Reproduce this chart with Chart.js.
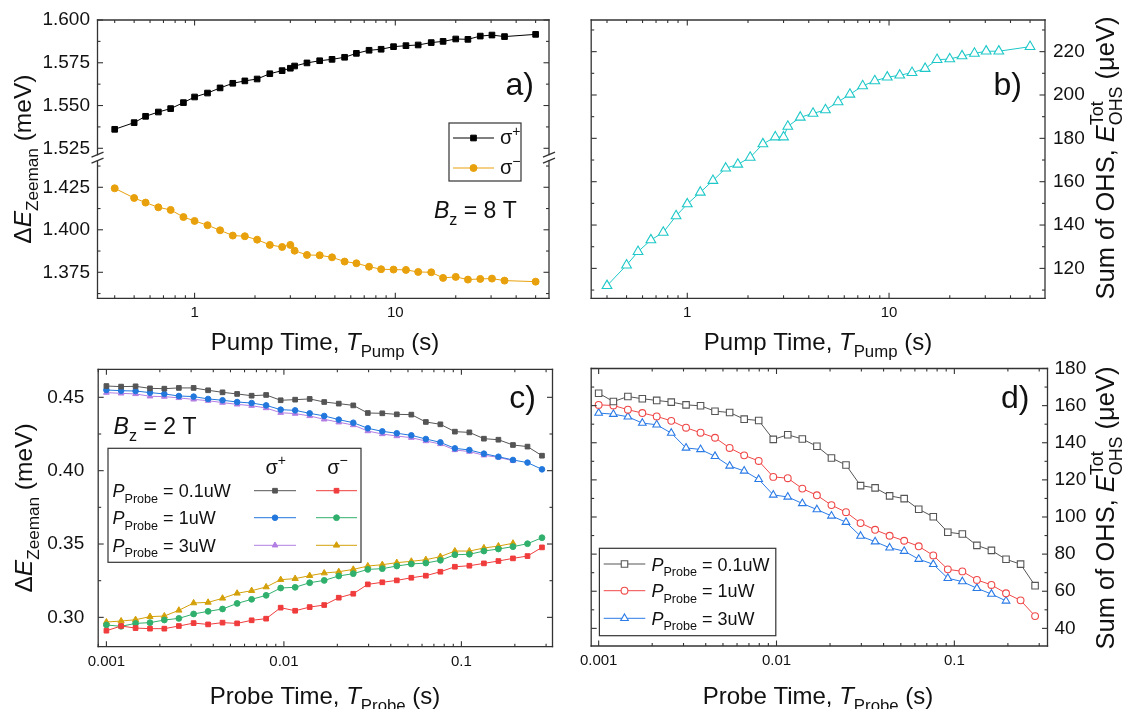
<!DOCTYPE html>
<html>
<head>
<meta charset="utf-8">
<script src="https://cdn.jsdelivr.net/npm/chart.js@4.4.1/dist/chart.umd.min.js"></script>
<style>
  html, body { margin: 0; padding: 0; background: #fff; }
  #wrap { position: relative; width: 1122px; height: 709px; }
  #wrap canvas { position: absolute; left: 0; top: 0; }
</style>
</head>
<body>
<div id="wrap">
  <canvas id="panelA" width="1122" height="709"></canvas>
  <canvas id="panelB" width="1122" height="709"></canvas>
  <canvas id="panelC" width="1122" height="709"></canvas>
  <canvas id="panelD" width="1122" height="709"></canvas>
</div>
<script>
const FONT = '"Liberation Sans", Arial, sans-serif';
const INK = '#111';
const FRAME = '#333';
const MAJOR_TICK = 5.5, MINOR_TICK = 3;

// ---- pump-time sweep (panels a, b) ----
const pumpTime = [0.4, 0.5, 0.57, 0.66, 0.76, 0.88, 1.0, 1.16, 1.34, 1.55, 1.78, 2.05, 2.37, 2.73, 3.0, 3.15,
  3.63, 4.2, 4.84, 5.59, 6.4, 7.4, 8.5, 9.8, 11.3, 13.0, 15.1, 17.3, 20, 23, 26.5, 30.3, 35, 50];
const zeemanSigmaPlus = [1.5361, 1.5400, 1.5437, 1.5462, 1.5482, 1.5517, 1.5550, 1.5573, 1.5603, 1.5630, 1.5644,
  1.5655, 1.5686, 1.5704, 1.5718, 1.5731, 1.5749, 1.5762, 1.5770, 1.5782, 1.5805, 1.5823, 1.5829, 1.5844,
  1.5850, 1.5854, 1.5868, 1.5875, 1.5889, 1.5887, 1.5906, 1.5912, 1.5903, 1.5916];
const zeemanSigmaMinus = [1.4244, 1.4187, 1.4160, 1.4132, 1.4117, 1.4075, 1.4052, 1.4027, 1.3997, 1.3966, 1.3962,
  1.3942, 1.3911, 1.3899, 1.3911, 1.3877, 1.3852, 1.3850, 1.3838, 1.3813, 1.3803, 1.3783, 1.3768, 1.3766,
  1.3764, 1.3752, 1.3750, 1.3717, 1.3723, 1.3707, 1.3711, 1.3713, 1.3701, 1.3695];
const ohsSumPump = [112.0, 121.5, 127.7, 133.1, 136.6, 144.2, 149.7, 155.1, 160.5, 166.2, 168.0, 171.2, 177.4,
  180.6, 180.6, 185.5, 189.7, 191.5, 193.1, 196.8, 200.3, 204.2, 206.5, 208.2, 209.1, 210.3, 212.2, 216.3,
  216.6, 218.0, 219.2, 220.2, 220.2, 222.3];

// ---- probe-time sweep (panels c, d) ----
const probeTime = [0.001, 0.00121, 0.00146, 0.00176, 0.00212, 0.00256, 0.0031, 0.00374, 0.00451, 0.00545,
  0.00658, 0.00794, 0.00959, 0.01157, 0.01397, 0.01687, 0.02037, 0.02459, 0.02969, 0.03584, 0.04325,
  0.05222, 0.06305, 0.07612, 0.09189, 0.1109, 0.1339, 0.1616, 0.1952, 0.2357, 0.2844];
const probePowers = ['0.1uW', '1uW', '3uW'];

const cPlus01 = [0.4577, 0.4573, 0.4575, 0.4561, 0.4559, 0.4564, 0.4564, 0.4548, 0.4534, 0.4523, 0.4511, 0.4516,
  0.4480, 0.4484, 0.4489, 0.4468, 0.4457, 0.4445, 0.4393, 0.4391, 0.4384, 0.4382, 0.4332, 0.4316, 0.4266,
  0.4261, 0.4218, 0.4211, 0.4175, 0.4164, 0.4102];
const cPlus1 = [0.4550, 0.4545, 0.4543, 0.4532, 0.4523, 0.4509, 0.4505, 0.4489, 0.4480, 0.4468, 0.4461, 0.4445,
  0.4416, 0.4411, 0.4391, 0.4373, 0.4348, 0.4327, 0.4289, 0.4268, 0.4255, 0.4241, 0.4216, 0.4193, 0.4152,
  0.4141, 0.4116, 0.4095, 0.4073, 0.4055, 0.4009];
const cPlus3 = [0.4532, 0.4527, 0.4523, 0.4507, 0.4505, 0.4496, 0.4486, 0.4477, 0.4464, 0.4452, 0.4443, 0.4427,
  0.4395, 0.4389, 0.4373, 0.4350, 0.4330, 0.4311, 0.4270, 0.4250, 0.4236, 0.4225, 0.4202, 0.4182, 0.4141,
  0.4130, 0.4105, 0.4091, 0.4068];
const cMinus01 = [0.2909, 0.2941, 0.2927, 0.2923, 0.2923, 0.2941, 0.2961, 0.2952, 0.2964, 0.2959, 0.2980, 0.2991,
  0.3066, 0.3045, 0.3070, 0.3084, 0.3134, 0.3161, 0.3225, 0.3239, 0.3252, 0.3270, 0.3284, 0.3311, 0.3345,
  0.3352, 0.3368, 0.3384, 0.3402, 0.3418, 0.3477];
const cMinus1 = [0.2948, 0.2939, 0.2959, 0.2964, 0.2982, 0.2993, 0.3023, 0.3041, 0.3057, 0.3095, 0.3123, 0.3150,
  0.3200, 0.3205, 0.3236, 0.3252, 0.3282, 0.3298, 0.3327, 0.3332, 0.3350, 0.3364, 0.3370, 0.3389, 0.3427,
  0.3430, 0.3452, 0.3466, 0.3482, 0.3502, 0.3543];
const cMinus3 = [0.2968, 0.2975, 0.2984, 0.3005, 0.3009, 0.3048, 0.3098, 0.3102, 0.3130, 0.3164, 0.3182, 0.3207,
  0.3257, 0.3264, 0.3284, 0.3302, 0.3311, 0.3327, 0.3350, 0.3359, 0.3373, 0.3382, 0.3393, 0.3414, 0.3452,
  0.3452, 0.3473, 0.3486, 0.3505];

const dSum01 = [166.7, 162.2, 164.9, 163.7, 162.8, 161.9, 160.4, 159.9, 157.0, 156.3, 152.7, 152.0, 141.8, 144.3,
  142.0, 138.1, 131.8, 128.0, 116.9, 115.7, 111.4, 109.9, 104.2, 100.1, 91.8, 90.8, 84.7, 82.0, 77.2, 74.6, 63.0];
const dSum1 = [160.4, 160.1, 157.8, 156.0, 154.2, 151.8, 148.1, 145.4, 142.7, 137.2, 133.2, 130.2, 121.6, 120.9,
  115.3, 111.7, 106.4, 102.6, 96.7, 93.1, 89.9, 87.2, 84.2, 79.3, 71.8, 70.7, 66.1, 63.4, 58.9, 55.1, 46.6];
const dSum3 = [156.0, 155.4, 154.0, 150.6, 149.7, 145.2, 137.2, 136.4, 132.7, 127.5, 124.8, 120.3, 111.9, 110.8,
  107.3, 104.0, 100.6, 97.2, 89.7, 86.7, 83.4, 81.6, 77.3, 74.5, 67.0, 65.2, 61.6, 58.5, 54.8];

// ---- labelled ticks ----
const pumpTickLabels = [1, 10];
const probeTickLabels = [0.001, 0.01, 0.1];
const aUpperTickLabels = [1.525, 1.55, 1.575, 1.6];
const aLowerTickLabels = [1.375, 1.4, 1.425];
const bTickLabels = [120, 140, 160, 180, 200, 220];
const cTickLabels = [0.30, 0.35, 0.40, 0.45];
const dTickLabels = [40, 60, 80, 100, 120, 140, 160, 180];

// marker styles
const stA = {
  plus: { color: '#000000', style: 'rect', radius: 4.0, open: false },
  minus: { color: '#e8a10c', style: 'circle', radius: 3.5, open: false }
};
const stB = { color: '#1ec8c8', style: 'triangle', radius: 5.6, open: true };
const stC = {
  plus01: { color: '#555555', style: 'rect', radius: 3.3, open: false },
  plus1: { color: '#2277dd', style: 'circle', radius: 2.8, open: false },
  plus3: { color: '#b27ee3', style: 'triangle', radius: 3.3, open: false },
  minus01: { color: '#f03c3c', style: 'rect', radius: 3.3, open: false },
  minus1: { color: '#30b06c', style: 'circle', radius: 2.9, open: false },
  minus3: { color: '#d4a00a', style: 'triangle', radius: 3.6, open: false }
};
const stD = {
  p01: { color: '#555555', style: 'rect', radius: 4.6, open: true },
  p1: { color: '#f04848', style: 'circle', radius: 3.4, open: true },
  p3: { color: '#2a7be6', style: 'triangle', radius: 4.4, open: true }
};

function pts(xs, ys) { return ys.map((y, i) => ({ x: xs[i], y })); }

function series(xs, ys, st, axis) {
  return {
    data: pts(xs, ys), showLine: true, tension: 0,
    borderColor: st.color, borderWidth: 1,
    pointStyle: st.style, pointRadius: st.radius, pointHoverRadius: st.radius,
    pointBorderWidth: st.open ? 1.1 : 1,
    pointBackgroundColor: st.open ? '#ffffff' : st.color,
    pointBorderColor: st.color,
    yAxisID: axis || 'y'
  };
}

function logTickValues(min, max, labeled) {
  const out = [];
  for (let e = Math.floor(Math.log10(min)); e <= Math.ceil(Math.log10(max)); e++) {
    for (let k = 1; k <= 9; k++) {
      const v = +(k * Math.pow(10, e)).toPrecision(6);
      if (v >= min && v <= max) out.push({ value: v, major: labeled.some(l => Math.abs(l / v - 1) < 1e-9) });
    }
  }
  return out;
}

function linearTickValues(min, max, labeled) {
  const half = (labeled[1] - labeled[0]) / 2;
  const out = [];
  for (let i = Math.ceil(min / half - 1e-9); i * half <= max + 1e-9; i++) {
    const v = +(i * half).toFixed(6);
    out.push({ value: v, major: labeled.some(l => Math.abs(l - v) < 1e-9) });
  }
  return out;
}

// bounds: 'data' keeps min/max exactly as given instead of snapping to generated ticks
function logX(min, max, labels, height) {
  return {
    type: 'logarithmic', position: 'bottom', min, max, bounds: 'data',
    grid: { display: false, drawTicks: false }, border: { display: false },
    afterBuildTicks: s => { s.ticks = logTickValues(min, max, labels); },
    afterFit: s => { s.height = height; },
    ticks: {
      autoSkip: false, maxRotation: 0, minRotation: 0, padding: 6, color: INK,
      font: { family: FONT, size: 15 },
      callback: (v, i, ticks) => ticks[i].major ? String(v) : ''
    }
  };
}

function linY(min, max, labels, position, width, padding, digits, extra) {
  return Object.assign({
    type: 'linear', position, min, max, bounds: 'data',
    grid: { display: false, drawTicks: false }, border: { display: false },
    afterBuildTicks: s => { s.ticks = linearTickValues(min, max, labels); },
    afterFit: s => { s.width = width; },
    ticks: {
      autoSkip: false, padding, color: INK, font: { family: FONT, size: 19 },
      callback: (v, i, ticks) => ticks[i].major ? v.toFixed(digits) : ''
    }
  }, extra || {});
}

// ---- drawing helpers for frame, ticks and rich text ----
function seg(ctx, x1, y1, x2, y2) {
  ctx.beginPath(); ctx.moveTo(x1, y1); ctx.lineTo(x2, y2); ctx.stroke();
}

function frame(ctx, a, breakY) {
  ctx.strokeStyle = FRAME; ctx.lineWidth = 1.3; ctx.lineCap = 'square';
  seg(ctx, a.left, a.top, a.right, a.top);
  seg(ctx, a.left, a.bottom, a.right, a.bottom);
  for (const x of [a.left, a.right]) {
    if (breakY == null) { seg(ctx, x, a.top, x, a.bottom); continue; }
    seg(ctx, x, a.top, x, breakY - 3);
    seg(ctx, x, breakY + 3, x, a.bottom);
    ctx.lineCap = 'butt';
    seg(ctx, x - 6, breakY - 0.5, x + 6, breakY - 5.5);
    seg(ctx, x - 6, breakY + 5.5, x + 6, breakY + 0.5);
    ctx.lineCap = 'square';
  }
}

function tickMarks(ctx, a, xScale, yScales, skip) {
  ctx.strokeStyle = FRAME; ctx.lineWidth = 1.1; ctx.lineCap = 'butt';
  for (const t of xScale.ticks) {
    const px = xScale.getPixelForValue(t.value);
    if (px < a.left - 0.5 || px > a.right + 0.5) continue;
    const len = t.major ? MAJOR_TICK : MINOR_TICK;
    seg(ctx, px, a.bottom, px, a.bottom - len);
    seg(ctx, px, a.top, px, a.top + len);
  }
  for (const ys of yScales) {
    for (const t of ys.ticks) {
      const py = ys.getPixelForValue(t.value);
      if (skip && skip(py)) continue;
      const len = t.major ? MAJOR_TICK : MINOR_TICK;
      seg(ctx, a.left, py, a.left + len, py);
      seg(ctx, a.right, py, a.right - len, py);
    }
  }
}

function fontFor(size, italic) { return (italic ? 'italic ' : '') + size + 'px ' + FONT; }

// parts: [text], [text,'i'], [text,'sub'], [text,'sup'], [sub,'subsup',sup]
function drawRich(ctx, parts, x, y, size, align) {
  const small = size * 0.7;
  const items = [];
  let width = 0;
  for (const p of parts) {
    const t = p[0], kind = p[1] || '';
    if (kind === 'subsup') {
      ctx.font = fontFor(small);
      const w = Math.max(ctx.measureText(t).width, ctx.measureText(p[2]).width);
      items.push({ t, font: fontFor(small), dy: size * 0.3, dx: width });
      items.push({ t: p[2], font: fontFor(small), dy: -size * 0.45, dx: width });
      width += w;
      continue;
    }
    const font = (kind === 'sub' || kind === 'sup') ? fontFor(small) : fontFor(size, kind === 'i');
    const dy = kind === 'sub' ? size * 0.3 : kind === 'sup' ? -size * 0.42 : 0;
    ctx.font = font;
    items.push({ t, font, dy, dx: width });
    width += ctx.measureText(t).width;
  }
  const x0 = align === 'center' ? x - width / 2 : align === 'right' ? x - width : x;
  ctx.textAlign = 'left'; ctx.textBaseline = 'alphabetic';
  for (const it of items) { ctx.font = it.font; ctx.fillText(it.t, x0 + it.dx, y + it.dy); }
  return width;
}

function rotatedRich(ctx, parts, x, y, size) {
  ctx.save();
  ctx.translate(x, y);
  ctx.rotate(-Math.PI / 2);
  drawRich(ctx, parts, 0, 0, size, 'center');
  ctx.restore();
}

function sample(ctx, x1, x2, y, st) {
  ctx.save();
  ctx.strokeStyle = st.color; ctx.lineWidth = 1;
  seg(ctx, x1, y, x2, y);
  ctx.fillStyle = st.open ? '#ffffff' : st.color;
  ctx.lineWidth = st.open ? 1.1 : 1;
  Chart.helpers.drawPoint(ctx, { pointStyle: st.style, radius: st.radius, rotation: 0, borderWidth: ctx.lineWidth },
    (x1 + x2) / 2, y);
  ctx.restore();
}

function legendBox(ctx, x1, y1, x2, y2) {
  ctx.strokeStyle = FRAME; ctx.lineWidth = 1.2;
  ctx.strokeRect(x1, y1, x2 - x1, y2 - y1);
}

const probeLabel = p => [['P', 'i'], ['Probe', 'sub'], [' = ' + p]];
const ohsTitle = [['Sum of OHS, '], ['E', 'i'], ['OHS', 'subsup', 'Tot'], [' (\u03bceV)']];
const zeemanTitle = [['\u0394'], ['E', 'i'], ['Zeeman', 'sub'], [' (meV)']];

function baseOptions(padding, scales) {
  return {
    responsive: false, animation: false, devicePixelRatio: 1, events: [],
    layout: { padding },
    plugins: { legend: { display: false }, tooltip: { enabled: false } },
    scales
  };
}

// ---- panel a: Zeeman splitting vs pump time, broken y axis ----
new Chart(document.getElementById('panelA'), {
  type: 'scatter',
  data: {
    datasets: [
      series(pumpTime, zeemanSigmaPlus, stA.plus, 'yTop'),
      series(pumpTime, zeemanSigmaMinus, stA.minus, 'yBot')
    ]
  },
  options: baseOptions({ left: 0, top: 20, right: 573, bottom: 355 }, {
    x: logX(0.3284, 58.3, pumpTickLabels, 55.7),
    yBot: linY(1.3597, 1.4424, aLowerTickLabels, 'left', 97.5, 7.5, 3, { stack: 'zeeman', stackWeight: 140.6 }),
    yTop: linY(1.5195, 1.600, aUpperTickLabels, 'left', 97.5, 7.5, 3, { stack: 'zeeman', stackWeight: 137.7 })
  }),
  plugins: [{
    id: 'decorA',
    afterDraw(chart) {
      const ctx = chart.ctx, a = chart.chartArea, s = chart.scales;
      const breakY = s.yTop.bottom;
      ctx.save();
      frame(ctx, a, breakY);
      tickMarks(ctx, a, s.x, [s.yTop, s.yBot], py => Math.abs(py - breakY) < 4);
      ctx.fillStyle = INK;
      rotatedRich(ctx, zeemanTitle, 31, (a.top + a.bottom) / 2, 24.5);
      drawRich(ctx, [['Pump Time, '], ['T', 'i'], ['Pump', 'sub'], [' (s)']], 325, 349.5, 24, 'center');
      drawRich(ctx, [['a)']], 534, 95, 32, 'right');
      drawRich(ctx, [['B', 'i'], ['z', 'sub'], [' = 8 T']], 434, 218, 23, 'left');
      legendBox(ctx, 449, 123, 521, 181);
      sample(ctx, 453, 494, 138, stA.plus);
      sample(ctx, 453, 494, 168, stA.minus);
      ctx.fillStyle = INK;
      drawRich(ctx, [['\u03c3'], ['+', 'sup']], 500, 144, 20, 'left');
      drawRich(ctx, [['\u03c3'], ['\u2212', 'sup']], 500, 174, 20, 'left');
      ctx.restore();
    }
  }]
});

// ---- panel b: total OHS vs pump time ----
new Chart(document.getElementById('panelB'), {
  type: 'scatter',
  data: { datasets: [series(pumpTime, ohsSumPump, stB)] },
  options: baseOptions({ left: 591.2, top: 20, right: 0, bottom: 355 }, {
    x: logX(0.334, 59.3, pumpTickLabels, 55.7),
    y: linY(106.2, 234.6, bTickLabels, 'right', 77, 8, 0)
  }),
  plugins: [{
    id: 'decorB',
    afterDraw(chart) {
      const ctx = chart.ctx, a = chart.chartArea, s = chart.scales;
      ctx.save();
      frame(ctx, a);
      tickMarks(ctx, a, s.x, [s.y]);
      ctx.fillStyle = INK;
      rotatedRich(ctx, ohsTitle, 1114, 158, 25.5);
      drawRich(ctx, [['Pump Time, '], ['T', 'i'], ['Pump', 'sub'], [' (s)']], 818, 349.5, 24, 'center');
      drawRich(ctx, [['b)']], 1022, 95, 32, 'right');
      ctx.restore();
    }
  }]
});

// ---- panel c: Zeeman splitting vs probe time for three probe powers ----
new Chart(document.getElementById('panelC'), {
  type: 'scatter',
  data: {
    datasets: [
      series(probeTime, cPlus01, stC.plus01),
      series(probeTime, cPlus1, stC.plus1),
      series(probeTime, cPlus3, stC.plus3),
      series(probeTime, cMinus01, stC.minus01),
      series(probeTime, cMinus1, stC.minus1),
      series(probeTime, cMinus3, stC.minus3)
    ]
  },
  options: baseOptions({ left: 0, top: 369.3, right: 569.5, bottom: 0 }, {
    x: logX(0.000899, 0.326, probeTickLabels, 62.3),
    y: linY(0.2800, 0.4691, cTickLabels, 'left', 98.2, 14, 2)
  }),
  plugins: [{
    id: 'decorC',
    afterDraw(chart) {
      const ctx = chart.ctx, a = chart.chartArea, s = chart.scales;
      ctx.save();
      frame(ctx, a);
      tickMarks(ctx, a, s.x, [s.y]);
      ctx.fillStyle = INK;
      rotatedRich(ctx, zeemanTitle, 32, (a.top + a.bottom) / 2, 24.5);
      drawRich(ctx, [['Probe Time, '], ['T', 'i'], ['Probe', 'sub'], [' (s)']], 325, 703.5, 24, 'center');
      drawRich(ctx, [['c)']], 536, 408, 32, 'right');
      drawRich(ctx, [['B', 'i'], ['z', 'sub'], [' = 2 T']], 113.6, 434, 23, 'left');
      ctx.fillStyle = '#ffffff';
      ctx.fillRect(108, 448.3, 253, 114);
      legendBox(ctx, 108, 448.3, 361, 562.3);
      ctx.fillStyle = INK;
      drawRich(ctx, [['\u03c3'], ['+', 'sup']], 275.7, 473.7, 20, 'center');
      drawRich(ctx, [['\u03c3'], ['\u2212', 'sup']], 337.5, 473.7, 20, 'center');
      const rows = [[490.7, stC.plus01, stC.minus01], [517.7, stC.plus1, stC.minus1], [545.3, stC.plus3, stC.minus3]];
      rows.forEach((r, i) => {
        ctx.fillStyle = INK;
        drawRich(ctx, probeLabel(probePowers[i]), 112.5, r[0] + 6.5, 18, 'left');
        sample(ctx, 254, 296, r[0], r[1]);
        sample(ctx, 316, 357, r[0], r[2]);
      });
      ctx.restore();
    }
  }]
});

// ---- panel d: total OHS vs probe time ----
new Chart(document.getElementById('panelD'), {
  type: 'scatter',
  data: {
    datasets: [
      series(probeTime, dSum01, stD.p01),
      series(probeTime, dSum1, stD.p1),
      series(probeTime, dSum3, stD.p3)
    ]
  },
  options: baseOptions({ left: 591.2, top: 368.5, right: 0, bottom: 0 }, {
    x: logX(0.000908, 0.334, probeTickLabels, 63),
    y: linY(30.5, 180, dTickLabels, 'right', 74.5, 7, 0)
  }),
  plugins: [{
    id: 'decorD',
    afterDraw(chart) {
      const ctx = chart.ctx, a = chart.chartArea, s = chart.scales;
      ctx.save();
      frame(ctx, a);
      tickMarks(ctx, a, s.x, [s.y]);
      ctx.fillStyle = INK;
      rotatedRich(ctx, ohsTitle, 1114, 508, 25.5);
      drawRich(ctx, [['Probe Time, '], ['T', 'i'], ['Probe', 'sub'], [' (s)']], 818, 703.5, 24, 'center');
      drawRich(ctx, [['d)']], 1029.5, 408, 32, 'right');
      ctx.fillStyle = '#ffffff';
      ctx.fillRect(599.4, 548.3, 176.4, 87.4);
      legendBox(ctx, 599.4, 548.3, 775.8, 635.7);
      const rows = [[564, stD.p01], [590.7, stD.p1], [618.3, stD.p3]];
      rows.forEach((r, i) => {
        sample(ctx, 603.7, 645.3, r[0], r[1]);
        ctx.fillStyle = INK;
        drawRich(ctx, probeLabel(probePowers[i]), 651.4, r[0] + 6.5, 18, 'left');
      });
      ctx.restore();
    }
  }]
});
</script>
</body>
</html>
